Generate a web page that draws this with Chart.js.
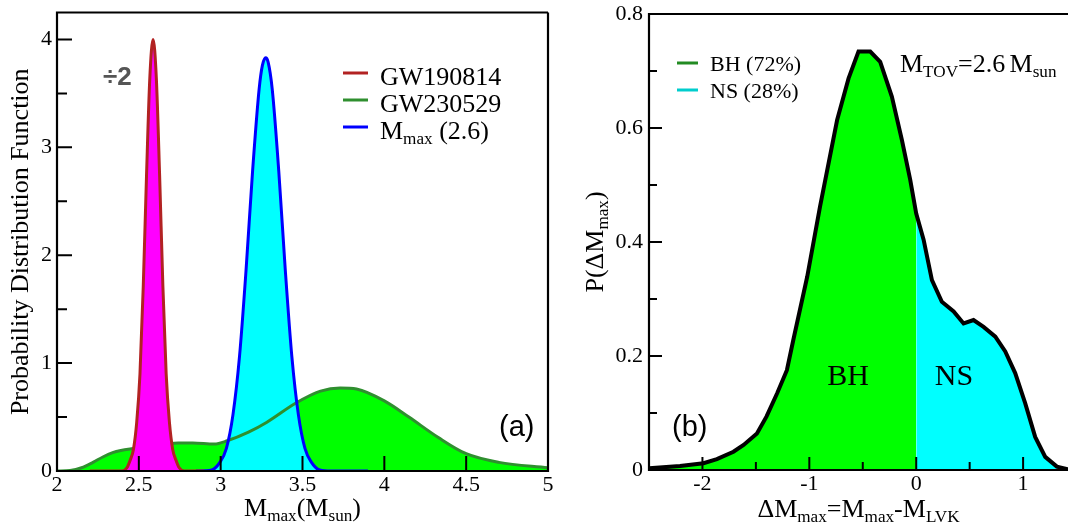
<!DOCTYPE html>
<html lang="en">
<head>
  <meta charset="UTF-8" />
  <title>Maximum mass PDFs</title>
  <script src="https://cdn.jsdelivr.net/npm/chart.js"></script>
  <style>
    body { margin: 0; background: #fff; }
    .wrap { position: relative; width: 1068px; height: 523px; overflow: hidden; }
    #panelA { position: absolute; left: 0; top: 0; }
    #panelB { position: absolute; left: 560px; top: 0; }
  </style>
</head>
<body>
  <div class="wrap">
    <canvas id="panelA" width="560" height="523"></canvas>
    <canvas id="panelB" width="508" height="523"></canvas>
  </div>

  <script>
    // (a) PDFs, GW190814 already divided by 2
    const gw190814X = [2.2, 2.397, 2.427, 2.447, 2.467, 2.487, 2.507, 2.527, 2.547, 2.567, 2.587, 2.607, 2.627, 2.647, 2.667, 2.687, 2.707, 2.727, 2.747, 2.777, 2.9];
    const gw190814Y = [0, 0, 0.03, 0.1, 0.2, 0.45, 0.9, 1.71, 2.74, 3.64, 4.0, 3.64, 2.74, 1.71, 0.9, 0.45, 0.2, 0.1, 0.03, 0, 0];

    const gw230529X = [2.0, 2.08, 2.15, 2.22, 2.28, 2.34, 2.39, 2.48, 2.6, 2.74, 2.83, 2.96, 3.04, 3.17, 3.28, 3.46, 3.61, 3.73, 3.83, 4.0, 4.15, 4.33, 4.5, 4.7, 5.0];
    const gw230529Y = [0, 0.005, 0.03, 0.08, 0.13, 0.17, 0.19, 0.21, 0.24, 0.26, 0.26, 0.25, 0.28, 0.36, 0.45, 0.63, 0.74, 0.77, 0.76, 0.65, 0.5, 0.31, 0.16, 0.08, 0.03];

    const mmaxX = [2.85, 2.945, 2.995, 3.035, 3.075, 3.115, 3.155, 3.195, 3.235, 3.255, 3.275, 3.29, 3.315, 3.355, 3.395, 3.435, 3.475, 3.515, 3.555, 3.605, 3.675, 3.9];
    const mmaxY = [0, 0.01, 0.08, 0.21, 0.52, 1.06, 1.86, 2.78, 3.54, 3.76, 3.83, 3.79, 3.54, 2.78, 1.86, 1.06, 0.52, 0.21, 0.08, 0.01, 0, 0];

    // (b) P(dM_max)
    const dmX = [-2.5, -2.21, -1.99, -1.865, -1.71, -1.615, -1.49, -1.4, -1.3, -1.21, -1.15, -1.02, -0.9, -0.74, -0.633, -0.54, -0.43, -0.337, -0.228, -0.134, -0.056, 0, 0.069, 0.147, 0.24, 0.35, 0.443, 0.536, 0.63, 0.74, 0.833, 0.926, 1.02, 1.113, 1.207, 1.316, 1.42];
    const dmY = [0.003, 0.007, 0.012, 0.019, 0.032, 0.044, 0.064, 0.094, 0.135, 0.175, 0.228, 0.339, 0.462, 0.614, 0.687, 0.734, 0.734, 0.716, 0.655, 0.579, 0.509, 0.45, 0.404, 0.333, 0.295, 0.278, 0.257, 0.263, 0.251, 0.234, 0.208, 0.17, 0.117, 0.058, 0.023, 0.006, 0.001];

    const aTicksX = [2, 2.5, 3, 3.5, 4, 4.5, 5];
    const aTicksY = [0, 1, 2, 3, 4];
    const aMinorY = [0.5, 1.5, 2.5, 3.5];
    const bTicksX = [-2, -1, 0, 1];
    const bMinorX = [-1.5, -0.5, 0.5];
    const bTicksY = [0, 0.2, 0.4, 0.6, 0.8];
    const bMinorY = [0.1, 0.3, 0.5, 0.7];

    const SERIF = '"Liberation Serif", "Times New Roman", serif';
    const SANS = '"Liberation Sans", Arial, sans-serif';

    function pts(xs, ys) {
      return xs.map((x, i) => ({ x: x, y: ys[i] }));
    }

    // axis box of fixed size, no extra padding from labels
    function fixed(size, horizontal) {
      return function (scale) {
        if (horizontal) scale.height = size; else scale.width = size;
        scale.paddingLeft = scale.paddingRight = scale.paddingTop = scale.paddingBottom = 0;
      };
    }

    function useTicks(list) {
      return function (scale) {
        scale.ticks = list.map(v => ({ value: v }));
      };
    }

    // text with subscripts: parts = [[text, isSub], ...]
    function rich(ctx, parts, x, y, size, align) {
      const sub = size * 0.66;
      let w = 0;
      parts.forEach(([t, s]) => {
        ctx.font = (s ? sub : size) + 'px ' + SERIF;
        w += ctx.measureText(t).width;
      });
      let cx = align === 'center' ? x - w / 2 : x;
      ctx.textAlign = 'left';
      ctx.textBaseline = 'alphabetic';
      parts.forEach(([t, s]) => {
        ctx.font = (s ? sub : size) + 'px ' + SERIF;
        ctx.fillText(t, cx, s ? y + size * 0.2 : y);
        cx += ctx.measureText(t).width;
      });
    }

    // xmgrace style frame with inward ticks
    const frame = {
      id: 'frame',
      afterDatasetsDraw(chart, args, o) {
        const { ctx, chartArea: a, scales: { x, y } } = chart;
        ctx.save();
        ctx.strokeStyle = '#000';
        ctx.lineWidth = 2;
        ctx.beginPath();
        const seg = (x1, y1, x2, y2) => { ctx.moveTo(x1, y1); ctx.lineTo(x2, y2); };
        o.xMajor.forEach(v => { const p = x.getPixelForValue(v); seg(p, a.bottom, p, a.bottom - o.major); });
        o.xMinor.forEach(v => { const p = x.getPixelForValue(v); seg(p, a.bottom, p, a.bottom - o.minor); });
        o.yMajor.forEach(v => { const p = y.getPixelForValue(v); seg(a.left, p, a.left + o.major, p); });
        o.yMinor.forEach(v => { const p = y.getPixelForValue(v); seg(a.left, p, a.left + o.minor, p); });
        ctx.stroke();

        ctx.lineWidth = 2.2;
        ctx.beginPath();
        ctx.moveTo(a.right, a.top);
        ctx.lineTo(a.left, a.top);
        ctx.lineTo(a.left, a.bottom);
        ctx.lineTo(a.right, a.bottom);
        if (o.closeRight) ctx.lineTo(a.right, a.top);
        ctx.stroke();
        ctx.restore();
      }
    };

    function textLayer(draw) {
      return {
        id: 'textLayer',
        afterDraw(chart) {
          const ctx = chart.ctx;
          ctx.save();
          ctx.fillStyle = '#000';
          draw(ctx, chart);
          ctx.restore();
        }
      };
    }

    function baseScales(xmin, xmax, ymin, ymax, xt, yt, yWidth, xHeight, yPad) {
      const font = { family: SERIF, size: 22 };
      return {
        x: {
          type: 'linear', min: xmin, max: xmax,
          grid: { display: false, drawTicks: false },
          border: { display: false },
          afterBuildTicks: useTicks(xt),
          afterFit: fixed(xHeight, true),
          ticks: { font: font, color: '#000', padding: 1, autoSkip: false, maxRotation: 0, callback: v => String(v) }
        },
        y: {
          min: ymin, max: ymax,
          grid: { display: false, drawTicks: false },
          border: { display: false },
          afterBuildTicks: useTicks(yt),
          afterFit: fixed(yWidth, false),
          ticks: { font: font, color: '#000', padding: yPad, callback: v => String(v) }
        }
      };
    }

    Chart.defaults.animation = false;

    // panel (a)
    new Chart(document.getElementById('panelA'), {
      type: 'line',
      data: {
        datasets: [
          { data: pts(gw230529X, gw230529Y), fill: 'origin', backgroundColor: '#00ff00', borderWidth: 0, order: 6 },
          { data: pts(mmaxX, mmaxY), fill: 'origin', backgroundColor: '#00ffff', borderWidth: 0, order: 5 },
          { data: pts(gw230529X, gw230529Y), fill: false, borderColor: '#2f8f2f', borderWidth: 3, order: 4 },
          { data: pts(mmaxX, mmaxY), fill: false, borderColor: '#0000ff', borderWidth: 3, order: 3 },
          { data: pts(gw190814X, gw190814Y), fill: 'origin', backgroundColor: '#ff00ff', borderWidth: 0, order: 2 },
          { data: pts(gw190814X, gw190814Y), fill: false, borderColor: '#b22222', borderWidth: 3, order: 1 }
        ]
      },
      options: {
        responsive: false,
        layout: { padding: { top: 12.5, right: 12, left: 0, bottom: 0 } },
        elements: { point: { radius: 0 }, line: { cubicInterpolationMode: 'monotone' } },
        scales: baseScales(2, 5, 0, 4.25, aTicksX, aTicksY, 57, 52, 5),
        plugins: {
          legend: { display: false },
          tooltip: { enabled: false },
          frame: { xMajor: [2.5, 3, 3.5, 4, 4.5], xMinor: [], yMajor: [1, 2, 3, 4], yMinor: aMinorY, major: 15, minor: 10, closeRight: true }
        }
      },
      plugins: [frame, textLayer(function (ctx, chart) {
        const a = chart.chartArea;
        // legend
        const rows = [
          ['#b22222', [['GW190814', false]]],
          ['#2f8f2f', [['GW230529', false]]],
          ['#0000ff', [['M', false], ['max', true], [' (2.6)', false]]]
        ];
        rows.forEach(([c, parts], i) => {
          const ly = 73 + i * 27;
          ctx.strokeStyle = c;
          ctx.lineWidth = 3;
          ctx.beginPath(); ctx.moveTo(343, ly); ctx.lineTo(368, ly); ctx.stroke();
          rich(ctx, parts, 380, ly + 12, 26, 'left');
        });
        // axis titles
        rich(ctx, [['M', false], ['max', true], ['(M', false], ['sun', true], [')', false]], (a.left + a.right) / 2, 516, 26, 'center');
        ctx.save();
        ctx.translate(28, (a.top + a.bottom) / 2);
        ctx.rotate(-Math.PI / 2);
        rich(ctx, [['Probability Distribution Function', false]], 0, 0, 26, 'center');
        ctx.restore();
        // annotations
        ctx.font = '29px ' + SANS;
        ctx.textAlign = 'left';
        ctx.fillText('(a)', 499, 436);
        ctx.fillStyle = '#555';
        ctx.font = 'bold 26px ' + SANS;
        ctx.fillText('÷2', 103, 85);
      })]
    });

    // panel (b)
    const bhIdx = dmX.map((x, i) => i).filter(i => dmX[i] <= 0);
    const nsIdx = dmX.map((x, i) => i).filter(i => dmX[i] >= 0);

    new Chart(document.getElementById('panelB'), {
      type: 'line',
      data: {
        datasets: [
          { data: bhIdx.map(i => ({ x: dmX[i], y: dmY[i] })), fill: 'origin', backgroundColor: '#00ff00', borderWidth: 0, order: 3 },
          { data: nsIdx.map(i => ({ x: dmX[i], y: dmY[i] })), fill: 'origin', backgroundColor: '#00ffff', borderWidth: 0, order: 2 },
          { data: pts(dmX, dmY), fill: false, borderColor: '#000', borderWidth: 4, order: 1 }
        ]
      },
      options: {
        responsive: false,
        layout: { padding: { top: 14, right: 0, left: 0, bottom: 0 } },
        elements: { point: { radius: 0 }, line: { tension: 0 } },
        scales: baseScales(-2.5, 1.42, 0, 0.8, bTicksX, bTicksY, 89, 53, 6),
        plugins: {
          legend: { display: false },
          tooltip: { enabled: false },
          frame: { xMajor: bTicksX, xMinor: bMinorX, yMajor: [0.2, 0.4, 0.6], yMinor: bMinorY, major: 13, minor: 8, closeRight: false }
        }
      },
      plugins: [frame, textLayer(function (ctx, chart) {
        const a = chart.chartArea;
        const rows = [['#228b22', 'BH (72%)'], ['#00cdcd', 'NS (28%)']];
        rows.forEach(([c, t], i) => {
          const ly = 63 + i * 27;
          ctx.strokeStyle = c;
          ctx.lineWidth = 3;
          ctx.beginPath(); ctx.moveTo(117, ly); ctx.lineTo(138, ly); ctx.stroke();
          rich(ctx, [[t, false]], 150, ly + 8, 22, 'left');
        });
        rich(ctx, [['M', false], ['TOV', true], ['=2.6', false], [' ', true], ['M', false], ['sun', true]], 340, 72, 26, 'left');
        rich(ctx, [['BH', false]], 288, 385, 30, 'center');
        rich(ctx, [['NS', false]], 394, 385, 30, 'center');
        rich(ctx, [['ΔM', false], ['max', true], ['=M', false], ['max', true], ['-M', false], ['LVK', true]], (a.left + a.right) / 2, 517, 26, 'center');
        ctx.save();
        ctx.translate(43, (a.top + a.bottom) / 2);
        ctx.rotate(-Math.PI / 2);
        rich(ctx, [['P(ΔM', false], ['max', true], [')', false]], 0, 0, 26, 'center');
        ctx.restore();
        ctx.font = '29px ' + SANS;
        ctx.textAlign = 'left';
        ctx.fillText('(b)', 112, 436);
      })]
    });
  </script>
</body>
</html>
